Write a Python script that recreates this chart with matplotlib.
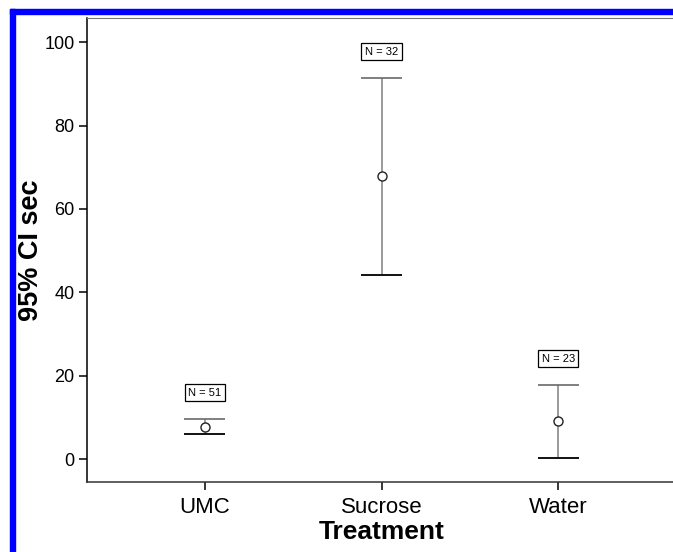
import matplotlib
matplotlib.use("Agg")
import matplotlib.pyplot as plt
from matplotlib.patches import Rectangle

# data
treatments = ["UMC", "Sucrose", "Water"]
means = [7.7, 67.8, 9.1]
upper = [9.6, 91.4, 17.7]
lower = [5.9, 44.2, 0.2]
n_labels = ["N = 51", "N = 32", "N = 23"]

plt.rcParams["font.family"] = ["Liberation Sans", "DejaVu Sans"]

fig = plt.figure(figsize=(6.73, 5.52), dpi=100)
ax = fig.add_axes([87 / 673, 1 - 482 / 552, 589 / 673, 464 / 552])

xs = list(range(1, len(treatments) + 1))
cap = 0.115
for x, m, hi, lo, lab in zip(xs, means, upper, lower, n_labels):
    ax.vlines(x, lo, hi, color="#8a8a8a", linewidth=1.2)
    ax.hlines(hi, x - cap, x + cap, color="#6a6a6a", linewidth=1.2)
    ax.hlines(lo, x - cap, x + cap, color="#111111", linewidth=1.4)
    ax.plot(x, m, "o", mfc="white", mec="#222222", mew=1.0, ms=6.5)
    ax.annotate(lab, (x, hi), xytext=(0, 19), textcoords="offset points",
                ha="center", va="center", fontsize=8,
                bbox=dict(boxstyle="square,pad=0.32", fc="white", ec="black", lw=0.9))

ax.set_xlim(1 / 3, 11 / 3)
ax.set_ylim(-5.5, 105.8)
ax.set_xticks(xs)
ax.set_xticklabels(treatments, fontsize=16)
ax.set_yticks([0, 20, 40, 60, 80, 100])
ax.tick_params(axis="y", labelsize=13, length=6, width=1.1, pad=3)
ax.tick_params(axis="x", length=6, width=1.1, pad=5)
ax.set_xlabel("Treatment", fontsize=19, fontweight="bold", labelpad=1)
ax.set_ylabel("95% CI sec", fontsize=19.5, fontweight="bold")
ax.yaxis.set_label_coords(-0.073, 0.5)

ax.spines["right"].set_visible(False)
ax.spines["top"].set_color("#777777")
ax.spines["left"].set_linewidth(1.1)
ax.spines["bottom"].set_linewidth(1.1)
ax.spines["bottom"].set_color("#333333")

# blue frame on the left and top
fig.patches.append(Rectangle((10 / 673, 0), 5 / 673, 1 - 9 / 552,
                             transform=fig.transFigure, color="#0000ff", zorder=5))
fig.patches.append(Rectangle((10 / 673, 1 - 14 / 552), 1, 5 / 552,
                             transform=fig.transFigure, color="#0000ff", zorder=5))

fig.savefig("out.png", dpi=100)
